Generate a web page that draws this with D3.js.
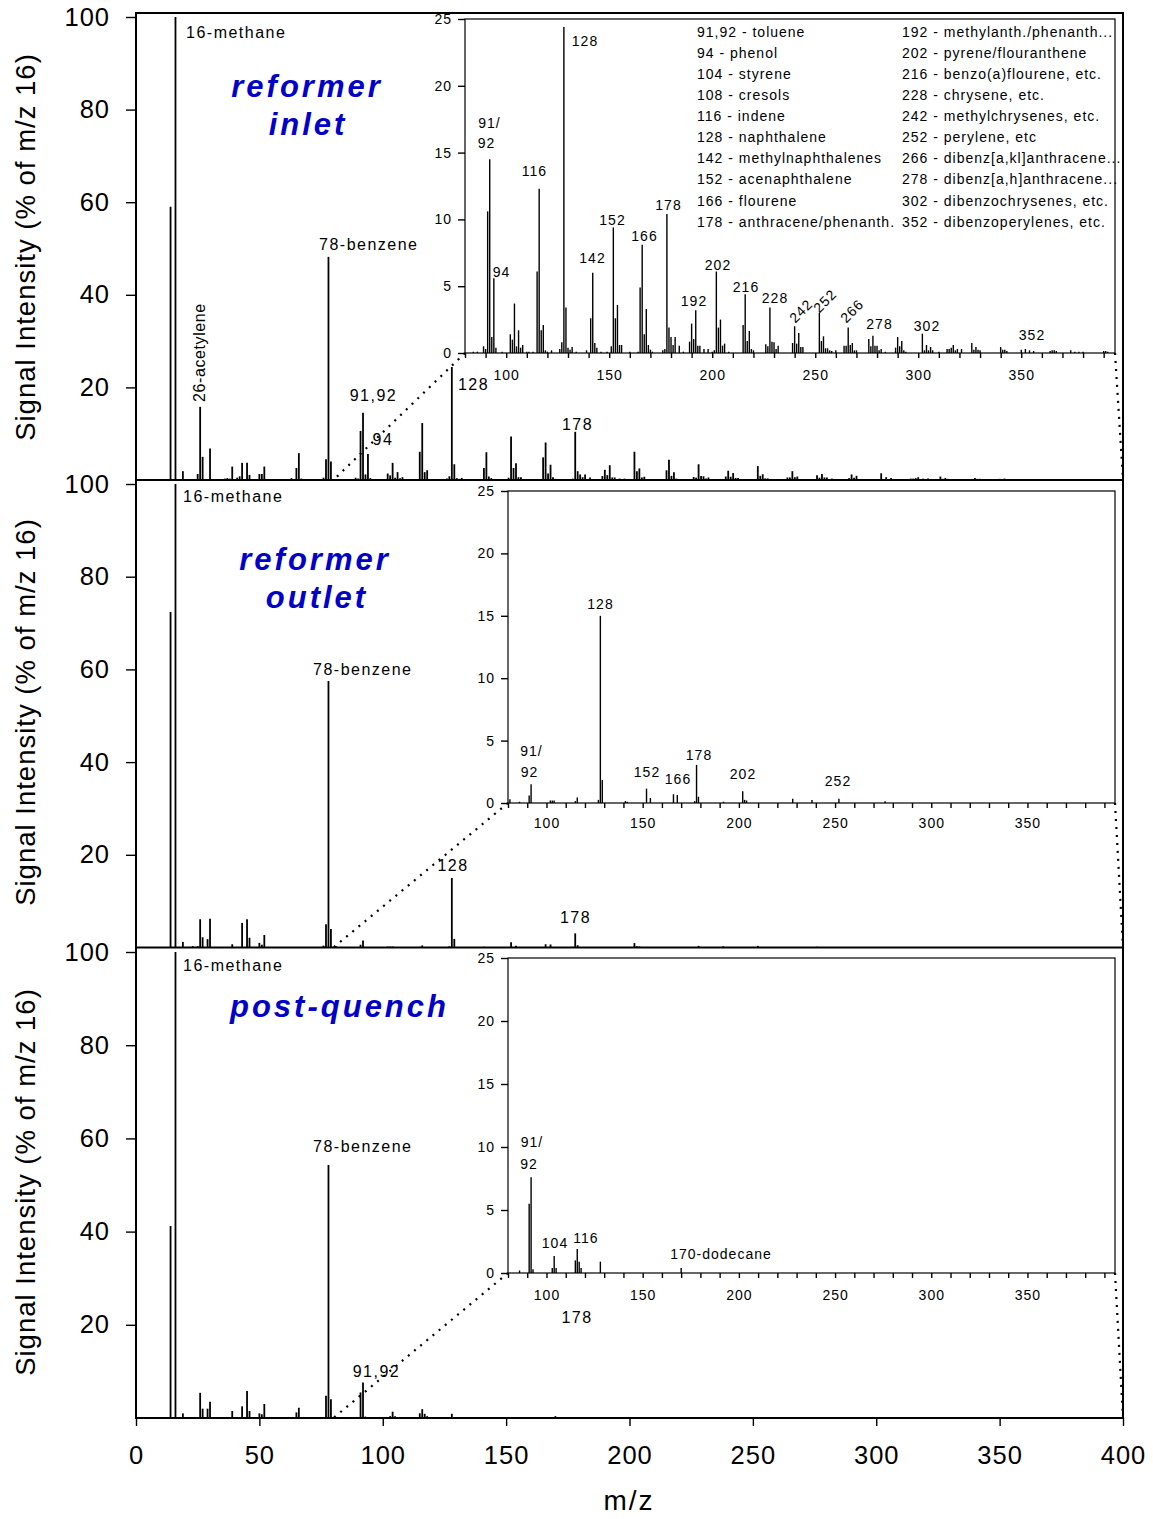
<!DOCTYPE html>
<html>
<head>
<meta charset="utf-8">
<script src="https://cdn.jsdelivr.net/npm/d3@7"></script>
<style>
  body { margin: 0; background: #fff; }
  text { font-family: Arial, "Liberation Sans", sans-serif; fill: #000; }
</style>
</head>
<body>
<div id="chart"></div>
<script>
// ---- data (m/z, % of m/z 16) ----

// reformer inlet
var inletMz = [14,16,19,23,25,26,27,30,34,36,37,38,39,41,42,43,45,46,50,51,52,54,63,65,66,67,76,77,78,79,
  84,86,89,90,91,92,93,94,95,98,102,103,104,105,106,107,108,110,111,113,115,116,117,118,119,120,122,
  126,127,128,129,130,131,132,134,139,141,142,143,144,146,149,151,152,153,154,155,156,160,164,165,166,
  167,168,169,170,171,176,177,178,179,180,181,182,184,186,189,190,191,192,193,194,196,198,200,201,202,
  203,204,205,206,208,215,216,217,218,219,220,226,227,228,229,230,231,232,239,240,241,242,243,244,252,
  253,254,255,256,257,258,260,264,265,266,267,268,269,270,276,277,278,279,280,281,282,284,289,290,291,
  292,293,294,302,303,304,305,306,307,310,314,315,316,317,318,319,321,326,327,328,329,330,340,341,342,
  343,350,352,354,356,364,365,366,367,374,376,378,380,390,391,392];
var inletInt = [59,100,1.9,0.2,1.3,15.8,5.0,6.8,0.2,0.3,0.4,0.3,2.9,0.5,0.8,3.7,3.7,1.1,1.3,1.3,2.9,0.2,0.4,2.6,5.8,0.3,0.5,4.5,48.2,4.0,
  0.1,0.1,0.5,0.3,10.6,14.5,1.2,5.6,0.4,0.1,1.4,1.0,3.7,0.5,1.7,0.4,0.6,0.1,0.1,0.1,6.1,12.3,1.7,2.1,0.2,0.1,0.2,
  0.3,0.8,24.4,3.4,0.4,0.25,0.45,0.1,0.2,2.6,6.0,0.75,0.4,0.1,0.1,0.5,9.4,2.6,3.6,0.6,0.6,0.1,0.1,4.9,8.1,
  1.4,3.3,0.6,0.25,0.1,0.2,0.3,10.4,1.9,1.2,0.6,1.2,0.55,0.1,0.85,2.2,1.05,3.2,0.55,0.55,0.3,0.3,0.1,0.2,6.1,
  1.9,2.5,0.55,0.7,0.1,2.1,4.4,0.9,1.65,0.3,0.2,0.65,0.5,3.4,0.85,0.8,0.3,0.55,0.75,2.0,0.7,1.5,0.45,0.45,3.0,
  0.9,1.25,0.35,0.35,0.2,0.15,0.2,0.55,0.55,1.9,0.6,0.75,0.2,0.2,1.05,0.5,1.3,0.55,0.55,0.2,0.3,0.1,0.4,1.2,0.5,
  0.9,0.2,0.1,1.45,0.2,0.6,0.2,0.45,0.2,0.1,0.3,0.3,0.4,0.6,0.2,0.3,0.3,0.75,0.25,0.45,0.25,0.2,0.45,0.25,0.25,
  0.15,0.25,0.3,0.2,0.15,0.15,0.2,0.2,0.15,0.2,0.1,0.1,0.1,0.15,0.15,0.1];

// reformer outlet
var outletMz = [14,16,19,23,25,26,27,29,30,39,43,45,46,50,51,52,76,77,78,79,81,86,91,92,102,103,104,115,116,
  127,128,129,141,142,152,154,166,168,177,178,179,192,202,203,204,228,238,252,276];
var outletInt = [72.4,100,1.2,0.3,0.3,6.1,2.2,1.8,6.2,0.7,5.3,6.1,2.1,1.0,0.6,2.7,0.4,5.0,57.5,4.0,0.3,0.1,0.6,1.5,0.2,0.2,0.2,0.15,0.45,
  0.25,15.0,1.85,0.15,0.1,1.15,0.4,0.7,0.65,0.15,3.05,0.5,0.1,0.95,0.25,0.2,0.35,0.25,0.35,0.15];

// post-quench
var quenchMz = [14,16,19,26,27,29,30,39,43,45,46,50,51,52,65,66,77,78,79,86,91,92,93,103,104,105,115,116,117,118,128,170];
var quenchInt = [41.2,100,1.0,5.4,2.0,2.0,3.5,1.5,2.5,5.8,1.5,1.0,0.8,3.0,1.2,2.2,4.8,54.3,4.0,0.2,5.5,7.6,0.3,0.4,1.35,0.4,1.0,1.9,0.9,0.4,0.9,0.4];

// axis ticks
var mainXTicks = [0,50,100,150,200,250,300,350,400];
var mainYTicks = [20,40,60,80,100];
var insetXTicks = d3.range(80, 396, 10);
var insetYTicks = [0,5,10,15,20,25];

// compound key in the first inset
var legendLeft = ["91,92 - toluene", "94 - phenol", "104 - styrene", "108 - cresols", "116 - indene",
  "128 - naphthalene", "142 - methylnaphthalenes", "152 - acenaphthalene", "166 - flourene",
  "178 - anthracene/phenanth."];
var legendRight = ["192 - methylanth./phenanth...", "202 - pyrene/flouranthene", "216 - benzo(a)flourene, etc.",
  "228 - chrysene, etc.", "242 - methylchrysenes, etc.", "252 - perylene, etc", "266 - dibenz[a,kl]anthracene...",
  "278 - dibenz[a,h]anthracene...", "302 - dibenzochrysenes, etc.", "352 - dibenzoperylenes, etc."];

// ---- layout ----
var W = 1153, H = 1519;
var svg = d3.select("#chart").append("svg")
    .attr("width", W)
    .attr("height", H);

var x = d3.scaleLinear().domain([0, 400]).range([136, 1123]);

var panels = [
  {mz: inletMz, val: inletInt, top: 13, bottom: 480, y100: 17,
   box: {left: 465, right: 1115, top: 19, bottom: 353}, xPad: 12,
   title: [["reformer", 307, 97], ["inlet", 308, 135]], titleMid: 247,
   labels: [["16-methane", 186, 38, "start"], ["78-benzene", 319, 250, "start"], ["91,92", 373.5, 401],
            ["94", 383, 445], ["128", 473.5, 390], ["178", 577.5, 430]],
   insetLabels: [["128", 585, 46], ["91/", 489.5, 128], ["92", 486.5, 148], ["116", 534.5, 176],
                 ["178", 668.5, 210], ["152", 612.5, 225], ["166", 644.5, 241], ["142", 592.5, 263],
                 ["94", 501.5, 277], ["202", 718, 270], ["216", 746, 292], ["192", 694, 306],
                 ["228", 775, 303], ["278", 879.5, 329], ["302", 927, 331], ["352", 1032, 340]],
   rotLabels: [["242", 801, 311], ["252", 825, 301], ["266", 852, 311]]},
  {mz: outletMz, val: outletInt, top: 480, bottom: 947.5, y100: 484,
   box: {left: 508, right: 1115, top: 491, bottom: 803}, xPad: 10,
   title: [["reformer", 315, 570], ["outlet", 317, 608]], titleMid: 712,
   labels: [["16-methane", 183, 502, "start"], ["78-benzene", 313, 675, "start"],
            ["128", 453, 871], ["178", 575.5, 923]],
   insetLabels: [["128", 600.5, 609], ["91/", 531.5, 756], ["92", 529.5, 776.5], ["152", 647, 776.5],
                 ["166", 678, 784], ["178", 699, 760], ["202", 743, 779], ["252", 838, 786]],
   rotLabels: []},
  {mz: quenchMz, val: quenchInt, top: 947.5, bottom: 1418, y100: 952,
   box: {left: 508, right: 1115, top: 958, bottom: 1273}, xPad: 12,
   title: [["post-quench", 339.5, 1017]], titleMid: 1182,
   labels: [["16-methane", 183, 971, "start"], ["78-benzene", 313, 1152, "start"],
            ["91,92", 376.5, 1377], ["178", 577, 1323]],
   insetLabels: [["91/", 532, 1147], ["92", 529, 1169], ["104", 555, 1248], ["116", 586, 1243],
                 ["170-dodecane", 721, 1259]],
   rotLabels: []}
];

function styleAxis(a, size, spacing) {
  a.select(".domain").remove();
  a.selectAll(".tick line").attr("stroke", "#000").attr("stroke-width", 1.4);
  a.selectAll(".tick text")
    .attr("fill", "#000")
    .style("font-size", size + "px")
    .style("letter-spacing", spacing + "px")
    .style("font-family", "Arial, 'Liberation Sans', sans-serif");
}

panels.forEach(function(p) {
  var y = d3.scaleLinear().domain([0, 100]).range([p.bottom, p.y100]);
  var g = svg.append("g");
  var pairs = d3.zip(p.mz, p.val);

  // main spectrum bars
  g.selectAll("line.bar")
    .data(pairs)
    .enter()
    .append("line")
    .attr("class", "bar")
    .attr("x1", d => x(d[0]))
    .attr("x2", d => x(d[0]))
    .attr("y1", y(0))
    .attr("y2", d => y(d[1]))
    .attr("stroke", "#000")
    .attr("stroke-width", 1.8);

  // y axis
  g.append("g")
    .attr("transform", "translate(" + x(0) + ",0)")
    .call(d3.axisLeft(y).tickValues(mainYTicks).tickSize(10).tickPadding(16))
    .call(a => styleAxis(a, 25.5, 1));

  // y title
  g.append("text")
    .attr("transform", "translate(35," + p.titleMid + ") rotate(-90)")
    .attr("text-anchor", "middle")
    .style("font-size", "27.5px")
    .style("letter-spacing", "1px")
    .text("Signal Intensity (% of m/z 16)");

  // panel title
  p.title.forEach(function(t) {
    g.append("text")
      .attr("x", t[1])
      .attr("y", t[2])
      .attr("text-anchor", "middle")
      .style("font-size", "31px")
      .style("font-weight", "bold")
      .style("font-style", "italic")
      .style("letter-spacing", "3px")
      .style("fill", "#0000c8")
      .text(t[0]);
  });

  // peak labels in the main panel
  g.selectAll("text.lab")
    .data(p.labels)
    .enter()
    .append("text")
    .attr("class", "lab")
    .attr("x", d => d[1])
    .attr("y", d => d[2])
    .attr("text-anchor", d => d[3] || "middle")
    .style("font-size", "16px")
    .style("letter-spacing", "1.5px")
    .text(d => d[0]);

  // ---- inset (zoom of m/z 80-400) ----
  var b = p.box;
  var xi = d3.scaleLinear().domain([80, 395.5]).range([b.left, b.right]);
  var yi = d3.scaleLinear().domain([0, 25]).range([b.bottom, b.top]);

  // dotted connectors from inset corners to the main axis
  var dots = [[[b.left, b.bottom], [x(80), y(0)]], [[b.right, b.bottom], [x(400), y(0)]]];
  g.selectAll("path.conn")
    .data(dots)
    .enter()
    .append("path")
    .attr("class", "conn")
    .attr("d", d3.line())
    .attr("fill", "none")
    .attr("stroke", "#000")
    .attr("stroke-width", 2.2)
    .attr("stroke-dasharray", "2,6");

  g.append("rect")
    .attr("x", b.left)
    .attr("y", b.top)
    .attr("width", b.right - b.left)
    .attr("height", b.bottom - b.top)
    .attr("fill", "#fff")
    .attr("stroke", "#000")
    .attr("stroke-width", 1.2);

  g.selectAll("line.ibar")
    .data(pairs.filter(d => d[0] >= 80 && d[0] <= 395))
    .enter()
    .append("line")
    .attr("class", "ibar")
    .attr("x1", d => xi(d[0]))
    .attr("x2", d => xi(d[0]))
    .attr("y1", yi(0))
    .attr("y2", d => yi(d[1]))
    .attr("stroke", "#000")
    .attr("stroke-width", 1.4);

  g.append("g")
    .attr("transform", "translate(" + b.left + ",0)")
    .call(d3.axisLeft(yi).tickValues(insetYTicks).tickSize(7).tickPadding(6))
    .call(a => styleAxis(a, 14, 1));

  g.append("g")
    .attr("transform", "translate(0," + b.bottom + ")")
    .call(d3.axisBottom(xi).tickValues(insetXTicks).tickSize(5).tickPadding(p.xPad)
      .tickFormat(d => (d % 50 === 0 ? d : "")))
    .call(a => styleAxis(a, 14, 1));

  g.selectAll("text.ilab")
    .data(p.insetLabels)
    .enter()
    .append("text")
    .attr("class", "ilab")
    .attr("x", d => d[1])
    .attr("y", d => d[2])
    .attr("text-anchor", "middle")
    .style("font-size", "14px")
    .style("letter-spacing", "1px")
    .text(d => d[0]);

  g.selectAll("text.rlab")
    .data(p.rotLabels)
    .enter()
    .append("text")
    .attr("class", "rlab")
    .attr("transform", d => "translate(" + d[1] + "," + d[2] + ") rotate(-45)")
    .attr("text-anchor", "middle")
    .attr("dy", "0.35em")
    .style("font-size", "14px")
    .style("letter-spacing", "1px")
    .text(d => d[0]);
});

// rotated acetylene label
svg.append("text")
  .attr("transform", "translate(204.5,402) rotate(-90)")
  .style("font-size", "16px")
  .style("letter-spacing", "0.6px")
  .text("26-acetylene");

// compound key
[legendLeft, legendRight].forEach(function(col, i) {
  svg.selectAll("text.key" + i)
    .data(col)
    .enter()
    .append("text")
    .attr("class", "key" + i)
    .attr("x", i === 0 ? 697 : 902)
    .attr("y", (d, j) => 36.5 + j * 21.13)
    .style("font-size", "14px")
    .style("letter-spacing", "1px")
    .text(d => d);
});

// outer frame and panel dividers
svg.append("rect")
  .attr("x", x(0))
  .attr("y", 13)
  .attr("width", x(400) - x(0))
  .attr("height", 1418 - 13)
  .attr("fill", "none")
  .attr("stroke", "#000")
  .attr("stroke-width", 2);

[480, 947.5].forEach(function(yy) {
  svg.append("line")
    .attr("x1", x(0)).attr("x2", x(400))
    .attr("y1", yy).attr("y2", yy)
    .attr("stroke", "#000")
    .attr("stroke-width", 2);
});

// bottom x axis
svg.append("g")
  .attr("transform", "translate(0,1418)")
  .call(d3.axisBottom(x).tickValues(mainXTicks).tickSize(8).tickPadding(20))
  .call(a => styleAxis(a, 25.5, 1));

svg.append("text")
  .attr("x", 629)
  .attr("y", 1510)
  .attr("text-anchor", "middle")
  .style("font-size", "28px")
  .style("letter-spacing", "2px")
  .text("m/z");
</script>
</body>
</html>
